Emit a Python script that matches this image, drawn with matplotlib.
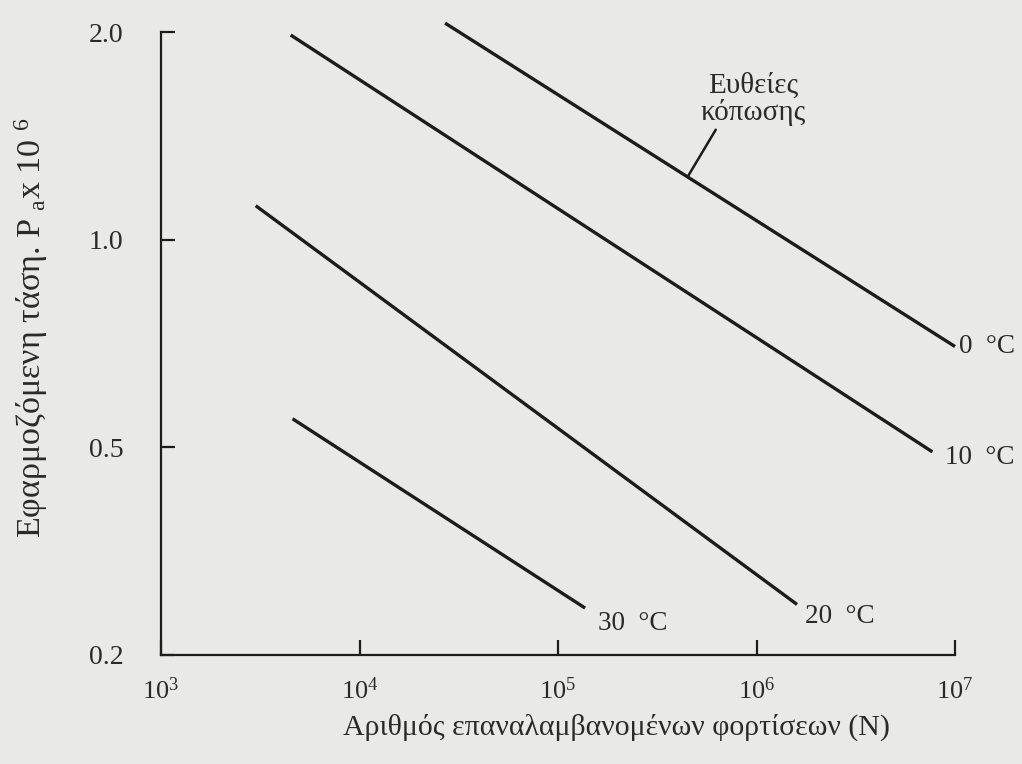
import numpy as np
import matplotlib
matplotlib.use("Agg")
import matplotlib.pyplot as plt
from matplotlib.ticker import NullLocator

plt.rcParams['font.family'] = ['Liberation Serif', 'DejaVu Serif']
plt.rcParams['mathtext.fontset'] = 'custom'
plt.rcParams['mathtext.rm'] = 'Liberation Serif'
plt.rcParams['mathtext.it'] = 'Liberation Serif:italic'
plt.rcParams['mathtext.default'] = 'regular'

# ---- data ----
temps = ['0  °C', '10  °C', '20  °C', '30  °C']
n_start = [2.7e4, 4.5e3, 3.0e3, 4.6e3]
n_end = [1.0e7, 7.7e6, 1.6e6, 1.37e5]
p_start = [2.06, 1.98, 1.12, 0.55]
p_end = [0.70, 0.49, 0.25, 0.246]

x_ticks = [1e3, 1e4, 1e5, 1e6, 1e7]
x_ticklabels = ['$10^{3}$', '$10^{4}$', '$10^{5}$', '$10^{6}$', '$10^{7}$']
y_ticks = [0.2, 0.5, 1.0, 2.0]
y_ticklabels = ['0.2', '0.5', '1.0', '2.0']

xlabel = 'Αριθμός επαναλαμβανομένων φορτίσεων (N)'
ylabel = 'Εφαρμοζόμενη τάση. P $_{a}$x 10 $^{6}$'
annot = 'Ευθείες\nκόπωσης'

# ---- scale: tick values equally spaced (as drawn in the original) ----
_L = np.log10(y_ticks)
_Lext = np.concatenate([[_L[0] - (_L[1] - _L[0])], _L, [_L[-1] + (_L[-1] - _L[-2])]])
_P = np.arange(-1, len(_L) + 1, dtype=float)

def fwd(y):
    y = np.clip(np.asarray(y, dtype=float), 1e-6, None)
    return np.interp(np.log10(y), _Lext, _P)

def inv(t):
    t = np.asarray(t, dtype=float)
    return 10 ** np.interp(t, _P, _Lext)

bg = '#e9e9e7'
ink = '#1c1c1c'
txt = '#2a2a2a'

fig = plt.figure(figsize=(10.22, 7.64), dpi=100, facecolor=bg)
ax = fig.add_axes([161 / 1022, 1 - 655 / 764, 794 / 1022, 623 / 764])
ax.set_facecolor(bg)
ax.set_xscale('log')
ax.set_yscale('function', functions=(fwd, inv))
ax.set_xlim(x_ticks[0], x_ticks[-1])
ax.set_ylim(y_ticks[0], y_ticks[-1])

for s in ['top', 'right']:
    ax.spines[s].set_visible(False)
for s in ['left', 'bottom']:
    ax.spines[s].set_linewidth(1.6)
    ax.spines[s].set_color(ink)

ax.set_xticks(x_ticks)
ax.set_xticklabels(x_ticklabels)
ax.set_yticks(y_ticks)
ax.set_yticklabels(y_ticklabels)
ax.xaxis.set_minor_locator(NullLocator())
ax.yaxis.set_minor_locator(NullLocator())
ax.tick_params(axis='both', direction='in', color=ink, width=1.6, labelcolor=txt)
ax.tick_params(axis='x', length=11, pad=16, labelsize=19)
ax.tick_params(axis='y', length=10, pad=27, labelsize=20)

label_offsets = [(3, 0), (9, -4), (6, -9), (9, -11)]
for i, t in enumerate(temps):
    ax.plot([n_start[i], n_end[i]], [p_start[i], p_end[i]], color=ink,
            lw=2.4, solid_capstyle='butt', clip_on=False)
    ax.annotate(t, xy=(n_end[i], p_end[i]), xytext=label_offsets[i],
                textcoords='offset points', ha='left', va='center',
                fontsize=19.5, color=txt, annotation_clip=False)

# annotation pointer to the 0 °C line
fig.canvas.draw()
p0 = ax.transData.transform((n_start[0], p_start[0]))
p1 = ax.transData.transform((n_end[0], p_end[0]))
pt = p0 + 0.4755 * (p1 - p0)
xy_data = ax.transData.inverted().transform(pt)
ax.annotate(annot, xy=xy_data, xytext=(47, 56), textcoords='offset points',
            ha='center', va='center', fontsize=21, color=txt,
            linespacing=1.0,
            arrowprops=dict(arrowstyle='-', color=ink, lw=1.8,
                            shrinkA=1, shrinkB=0, relpos=(0.17, 0.0)))

ax.set_xlabel(xlabel, fontsize=21.5, color=txt, va='center')
ax.xaxis.set_label_coords(0.574, -0.1156)
ax.set_ylabel(ylabel, fontsize=24.5, color=txt, va='center')
ax.yaxis.set_label_coords(-0.163, 0.525)

fig.savefig('out.png', dpi=100, facecolor=bg)
